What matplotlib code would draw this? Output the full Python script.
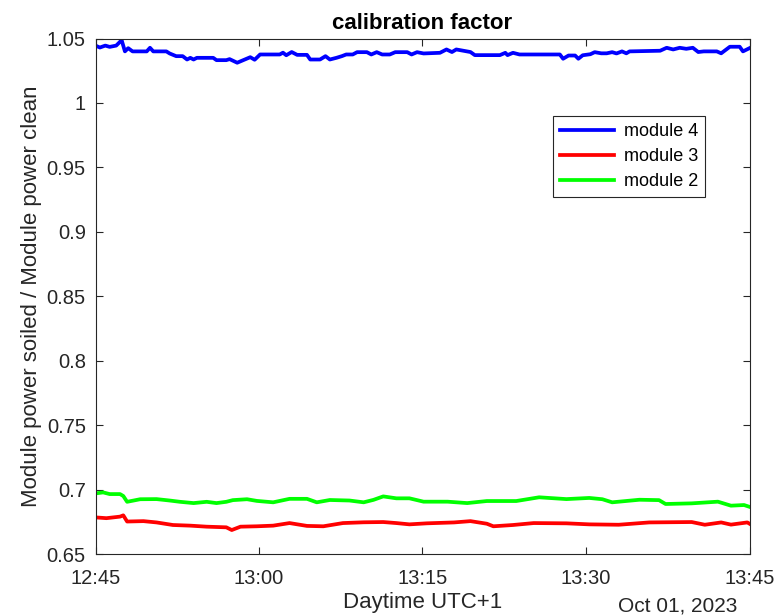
import matplotlib
matplotlib.use("Agg")
import matplotlib.pyplot as plt
import matplotlib.dates as mdates
import numpy as np
import pandas as pd

# minutes after 12:45 and measured ratio for each module
t_mod4 = [0, 0.4, 0.9, 1.3, 1.9, 2.4, 2.7, 3.0, 3.4, 4.7, 5.0, 5.3, 6.5, 6.8, 7.4, 8.0,
          8.4, 8.7, 9.0, 9.3, 10.8, 11.1, 12.0, 12.3, 13.0, 13.5, 14.2, 14.6, 15.1, 16.9,
          17.2, 17.5, 18.0, 18.5, 19.4, 19.7, 20.6, 21.1, 21.5, 22.1, 22.6, 23.0, 23.6,
          24.0, 24.9, 25.3, 25.8, 26.3, 27.0, 27.5, 28.6, 29.0, 29.5, 30.1, 31.6, 32.2,
          32.7, 33.1, 34.4, 34.8, 37.1, 37.6, 37.8, 38.3, 38.9, 42.6, 42.9, 43.4, 44.0,
          44.3, 44.7, 45.4, 45.8, 46.4, 46.9, 47.4, 47.8, 48.3, 48.7, 49.0, 51.8, 52.4,
          53.0, 53.6, 54.2, 54.8, 55.3, 55.8, 57.0, 57.4, 58.2, 59.1, 59.4, 60.0]
module4 = [1.0445, 1.0430, 1.0445, 1.0435, 1.0445, 1.0487, 1.0400, 1.0425, 1.0400, 1.0400,
           1.0428, 1.0400, 1.0400, 1.0384, 1.0363, 1.0363, 1.0337, 1.0350, 1.0337, 1.0350,
           1.0350, 1.0332, 1.0332, 1.0340, 1.0312, 1.0330, 1.0355, 1.0335, 1.0376, 1.0376,
           1.0390, 1.0370, 1.0395, 1.0373, 1.0373, 1.0337, 1.0337, 1.0363, 1.0337, 1.0350,
           1.0363, 1.0376, 1.0376, 1.0394, 1.0394, 1.0376, 1.0394, 1.0376, 1.0376, 1.0394,
           1.0394, 1.0376, 1.0394, 1.0384, 1.0389, 1.0415, 1.0395, 1.0415, 1.0395, 1.0371,
           1.0371, 1.0389, 1.0371, 1.0389, 1.0376, 1.0376, 1.0343, 1.0368, 1.0368, 1.0343,
           1.0370, 1.0378, 1.0394, 1.0385, 1.0385, 1.0394, 1.0384, 1.0400, 1.0385, 1.0400,
           1.0405, 1.0428, 1.0415, 1.0428, 1.0420, 1.0428, 1.0395, 1.0400, 1.0400, 1.0385,
           1.0436, 1.0436, 1.0400, 1.0425]

t_mod3 = [0, 1.0, 2.25, 2.55, 2.9, 4.4, 5.6, 7.1, 8.7, 10.2, 12.0, 12.5, 13.3, 14.8, 16.3,
          17.8, 19.4, 20.9, 22.7, 24.6, 26.4, 27.6, 28.8, 30.4, 32.9, 34.4, 35.9, 36.5,
          38.3, 40.2, 43.2, 45.3, 48.0, 50.8, 54.7, 55.9, 57.4, 58.3, 59.8, 60.0]
module3 = [0.6784, 0.6778, 0.6790, 0.6800, 0.6752, 0.6755, 0.6745, 0.6725, 0.6720, 0.6712,
           0.6707, 0.6686, 0.6712, 0.6715, 0.6720, 0.6740, 0.6718, 0.6715, 0.6740, 0.6746,
           0.6748, 0.6740, 0.6730, 0.6738, 0.6745, 0.6755, 0.6735, 0.6715, 0.6725, 0.6740,
           0.6738, 0.6730, 0.6727, 0.6745, 0.6748, 0.6727, 0.6745, 0.6728, 0.6745, 0.6735]

t_mod2 = [0, 0.7, 1.3, 2.25, 2.55, 2.9, 4.1, 5.6, 6.8, 7.75, 9.0, 10.2, 11.1, 12.0, 12.6,
          13.9, 14.8, 16.3, 17.8, 19.4, 20.3, 21.5, 23.3, 24.6, 25.5, 26.4, 27.6, 28.8,
          30.1, 32.3, 34.1, 35.9, 38.6, 40.7, 43.2, 45.3, 46.5, 47.4, 49.9, 51.7, 52.3,
          54.7, 57.1, 58.3, 59.5, 60.0]
module2 = [0.6970, 0.6978, 0.6965, 0.6965, 0.6950, 0.6905, 0.6925, 0.6926, 0.6915, 0.6905,
           0.6895, 0.6905, 0.6895, 0.6905, 0.6918, 0.6925, 0.6912, 0.6901, 0.6928, 0.6928,
           0.6901, 0.6919, 0.6915, 0.6901, 0.6920, 0.6947, 0.6932, 0.6932, 0.6906, 0.6906,
           0.6895, 0.6911, 0.6911, 0.6940, 0.6926, 0.6935, 0.6925, 0.6901, 0.6921, 0.6918,
           0.6888, 0.6893, 0.6906, 0.6875, 0.6880, 0.6866]

start = pd.Timestamp("2023-10-01 12:45")


def to_time(minutes):
    return start + pd.to_timedelta(np.array(minutes), unit="min")


plt.rcParams["font.family"] = ["Liberation Sans", "DejaVu Sans"]
ink = "#262626"

fig = plt.figure(figsize=(7.76, 6.16), dpi=100)
ax = fig.add_axes([95.5 / 776, 1 - 554 / 616, 654 / 776, 515.5 / 616])

ax.plot(to_time(t_mod4), module4, color="#0000ff", lw=2.7, label="module 4")
ax.plot(to_time(t_mod3), module3, color="#ff0000", lw=2.7, label="module 3")
ax.plot(to_time(t_mod2), module2, color="#00ff00", lw=2.7, label="module 2")

ax.set_xlim(start, start + pd.Timedelta(minutes=60))
ax.set_ylim(0.65, 1.05)
ax.xaxis.set_major_locator(mdates.MinuteLocator(byminute=[0, 15, 30, 45]))
ax.xaxis.set_major_formatter(mdates.DateFormatter("%H:%M"))
ax.set_yticks([0.65, 0.7, 0.75, 0.8, 0.85, 0.9, 0.95, 1.0, 1.05])
ax.set_yticklabels(["0.65", "0.7", "0.75", "0.8", "0.85", "0.9", "0.95", "1", "1.05"])

ax.tick_params(direction="in", top=True, right=True, length=5, width=0.8,
               colors=ink, labelsize=14.5)
ax.tick_params(axis="x", pad=11)
ax.tick_params(axis="y", pad=7)
for s in ax.spines.values():
    s.set_color(ink)
    s.set_linewidth(0.8)

ax.set_title("calibration factor", fontsize=16, fontweight="bold", color="black", pad=7)
ax.set_ylabel("Module power soiled / Module power clean", fontsize=16, color=ink, labelpad=3)
ax.set_xlabel("Daytime UTC+1", fontsize=16, color=ink, labelpad=3)
ax.text(0.981, -0.1, "Oct 01, 2023", transform=ax.transAxes, ha="right", va="center",
        fontsize=15, color=ink)

leg = ax.legend(loc="upper left", bbox_to_anchor=((553 - 95.5) / 654, (554 - 116) / 515.5),
                fontsize=13, handlelength=3.0, fancybox=False, framealpha=1,
                borderpad=0.38, labelspacing=0.45, handletextpad=0.55, borderaxespad=0)
leg.get_frame().set_edgecolor(ink)
leg.get_frame().set_linewidth(0.8)

fig.savefig("out.png", dpi=100)
